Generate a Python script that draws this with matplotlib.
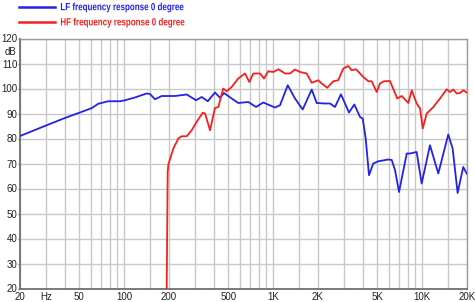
import matplotlib
matplotlib.use("Agg")
import matplotlib.pyplot as plt
from matplotlib.ticker import FixedLocator, NullFormatter
from matplotlib.patheffects import AbstractPathEffect
from matplotlib.transforms import Affine2D

# ---- data ----
lf_freq = [20, 30.2, 40, 50, 60.8, 67, 78.3, 93.9, 101.3, 118, 141.6, 149, 161, 178.6,
           219.5, 263, 303.8, 331.6, 364, 407, 440, 468, 527, 583, 681, 768, 859,
           1028, 1112, 1253, 1402, 1578, 1815, 1959, 2229, 2410, 2600, 2851, 3228,
           3507, 3830, 3990, 4180, 4398, 4700, 5081, 5929, 6252, 6577, 6996, 7880,
           8282, 9186, 9926, 11290, 12830, 14970, 16020, 17300, 18870, 19900]
lf_db = [81.0, 85.3, 88.2, 90.3, 92.2, 93.9, 94.9, 94.9, 95.3, 96.4, 98.0, 97.8, 95.7, 97.0,
         97.0, 97.6, 95.3, 96.6, 94.9, 98.4, 96.3, 98.2, 96.0, 94.2, 94.6, 92.6, 94.4,
         92.4, 93.3, 101.3, 96.0, 91.6, 99.6, 94.2, 94.0, 94.0, 92.6, 97.7, 90.4,
         93.6, 88.6, 88.0, 80.0, 65.3, 70.0, 70.9, 71.6, 71.4, 67.3, 58.6, 74.0,
         74.0, 74.6, 62.0, 77.3, 66.0, 81.6, 76.0, 58.2, 68.6, 66.0]

hf_freq = [193, 196, 198, 214, 231, 243, 263, 284, 307, 337, 349, 377, 407, 429, 462,
           488, 527, 583, 647, 692, 736, 816, 869, 927, 1003, 1084, 1202, 1297, 1402,
           1514, 1679, 1815, 2009, 2118, 2307, 2534, 2735, 2958, 3193, 3364, 3598,
           4028, 4357, 4583, 4955, 5213, 5543, 6081, 6809, 7292, 8075, 8510, 9186,
           9683, 10090, 10740, 11890, 13180, 14620, 15380, 16180, 17060, 17960,
           18880, 19900]
hf_db = [20.0, 66.6, 69.6, 76.0, 80.0, 80.9, 80.9, 83.3, 86.7, 90.3, 90.0, 83.3, 92.2,
         92.6, 100.0, 98.9, 100.6, 104.0, 106.0, 102.6, 106.0, 106.0, 104.0, 106.9,
         106.6, 107.7, 106.0, 106.0, 107.6, 106.6, 106.0, 102.3, 103.3, 102.0, 100.3,
         102.9, 103.3, 108.0, 109.0, 107.3, 107.7, 104.6, 102.9, 102.9, 98.6, 102.0,
         102.9, 103.0, 96.0, 97.0, 94.2, 99.3, 94.0, 92.0, 84.0, 90.0, 92.6, 96.0,
         99.7, 98.6, 99.6, 98.0, 98.2, 99.3, 98.4]

x_major = [20, 30, 50, 100, 200, 500, 1000, 2000, 5000, 10000, 20000]
x_major_labels = ["20", "Hz", "50", "100", "200", "500", "1K", "2K", "5K", "10K", "20K"]
x_grid_minor = [40, 60, 70, 80, 90, 150, 300, 400, 600, 700, 800, 900, 1500, 3000,
                4000, 6000, 7000, 8000, 9000, 15000]
y_major = [20, 30, 40, 50, 60, 70, 80, 90, 100, 110, 120]
y_unit_pos = [115]
y_unit_label = ["dB"]

lf_label = "LF frequency response 0 degree"
hf_label = "HF frequency response 0 degree"


class Condense(AbstractPathEffect):
    """Draw text glyphs horizontally condensed (keeps the left anchor)."""

    def __init__(self, sx):
        super().__init__()
        self.sx = sx

    def draw_path(self, renderer, gc, tpath, affine, rgbFace=None):
        renderer.draw_path(gc, tpath, Affine2D().scale(self.sx, 1.0) + affine, rgbFace)


# ---- figure ----
fig = plt.figure(figsize=(4.75, 3.02), dpi=100)
ax = fig.add_axes([20 / 475, (302 - 288.5) / 302, 447 / 475, 250 / 302])

lf_line, = ax.plot(lf_freq, lf_db, color="#2323e6", lw=1.3, label=lf_label, zorder=3)
hf_line, = ax.plot(hf_freq, hf_db, color="#f52020", lw=1.3, label=hf_label, zorder=3)

ax.set_xscale("log")
ax.set_xlim(20, 20000)
ax.set_ylim(20, 120)

ax.xaxis.set_major_locator(FixedLocator(x_major))
ax.set_xticklabels(x_major_labels)
ax.xaxis.set_minor_locator(FixedLocator(x_grid_minor))
ax.xaxis.set_minor_formatter(NullFormatter())
ax.set_yticks(y_major)
ax.set_yticks(y_unit_pos, minor=True)
ax.set_yticklabels(y_unit_label, minor=True)

ax.grid(True, which="major", axis="both", color="#c8c8c8", lw=1.0)
ax.grid(True, which="minor", axis="x", color="#c8c8c8", lw=1.0)
ax.set_axisbelow(True)

ax.tick_params(which="both", length=0, labelsize=7.0, labelcolor="#222222")
ax.tick_params(axis="y", which="major", length=1.5, width=1, color="#707070", pad=0.3)
ax.tick_params(axis="y", which="minor", pad=2.3)
ax.tick_params(axis="x", which="both", pad=2.8)
for lbl in ax.get_xticklabels() + ax.get_yticklabels() + ax.get_yticklabels(minor=True):
    lbl.set_family("Liberation Sans")

for side in ["left", "bottom"]:
    ax.spines[side].set_color("#707070")
    ax.spines[side].set_linewidth(1.3)
for side in ["top", "right"]:
    ax.spines[side].set_color("#9a9a9a")
    ax.spines[side].set_linewidth(1.0)

leg = fig.legend(handles=[lf_line, hf_line], loc="upper left",
                 bbox_to_anchor=(14 / 475, 1.01), frameon=False,
                 prop={"family": "Liberation Sans", "weight": "bold", "size": 7.5},
                 handlelength=3.4, handletextpad=0.55, labelspacing=0.5,
                 borderpad=0.0, labelcolor="linecolor")
for h in leg.legend_handles:
    h.set_linewidth(1.8)
for t in leg.get_texts():
    t.set_path_effects([Condense(0.77)])

fig.savefig("out.png", dpi=100)
